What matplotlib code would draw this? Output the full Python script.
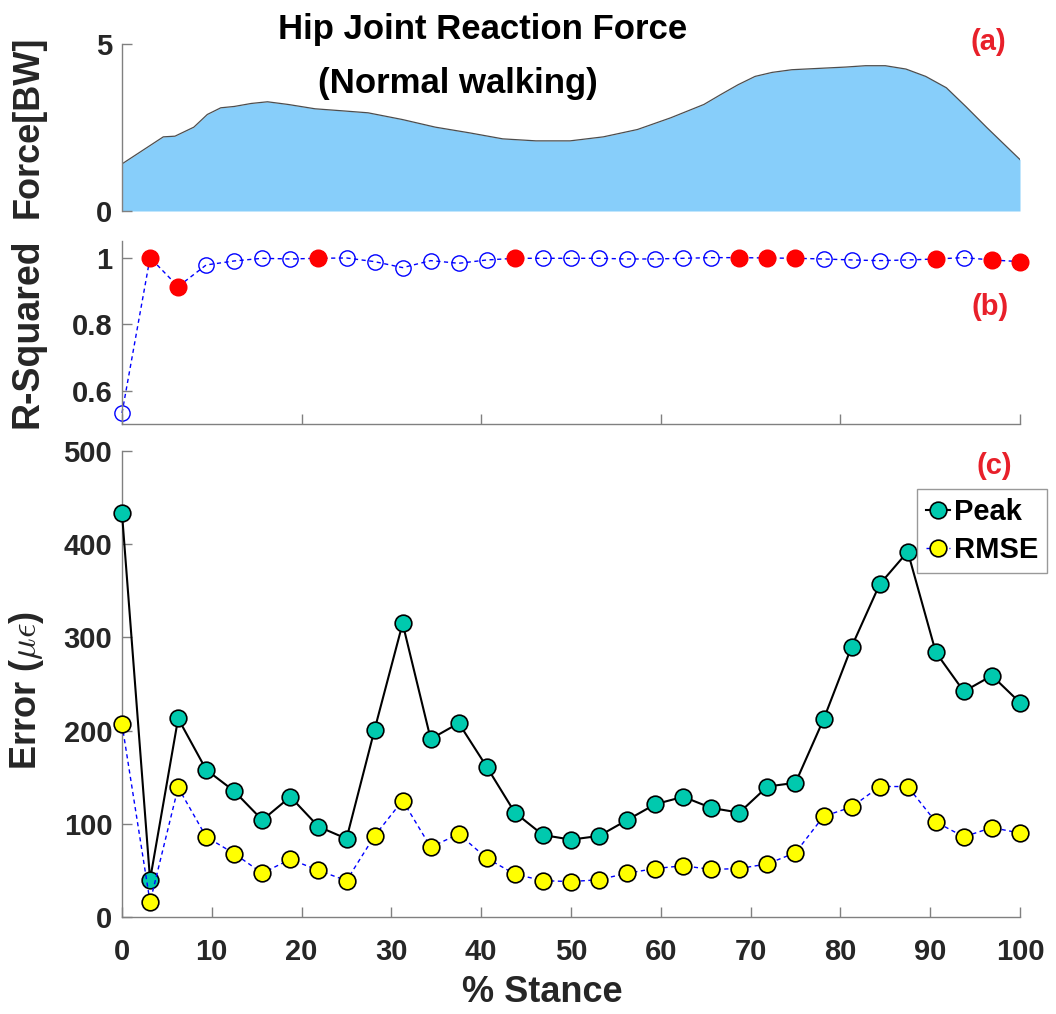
import matplotlib
matplotlib.use('Agg')
import matplotlib.pyplot as plt

# ---------------- data ----------------
stance = [0, 3.125, 6.25, 9.375, 12.5, 15.625, 18.75, 21.875, 25, 28.125, 31.25,
          34.375, 37.5, 40.625, 43.75, 46.875, 50, 53.125, 56.25, 59.375, 62.5,
          65.625, 68.75, 71.875, 75, 78.125, 81.25, 84.375, 87.5, 90.625, 93.75,
          96.875, 100]

peak = [433, 40, 213, 158, 135, 104, 129, 97, 84, 201, 315, 191, 208, 161, 112,
        88, 83, 87, 104, 121, 129, 117, 112, 140, 144, 212, 290, 357, 392, 284,
        242, 259, 230]

rmse = [207, 16, 139, 86, 68, 47, 62, 50, 39, 87, 125, 75, 89, 63, 46, 39, 38,
        40, 47, 52, 55, 51, 52, 57, 69, 108, 118, 140, 140, 102, 86, 96, 90]

r2 = [0.533, 1.0, 0.913, 0.978, 0.990, 0.998, 0.996, 0.998, 0.999, 0.988, 0.970,
      0.991, 0.983, 0.993, 0.998, 0.998, 0.998, 0.998, 0.996, 0.996, 0.998, 1.0,
      1.0, 0.999, 0.998, 0.996, 0.993, 0.991, 0.993, 0.996, 1.0, 0.993, 0.988]
r2_highlight = [1, 2, 7, 14, 22, 23, 24, 29, 31, 32]

force_x = [0, 4.6, 5.9, 8.0, 9.5, 11.0, 12.5, 14.4, 16.2, 18.5, 21.5, 24.5, 27.4,
           31.2, 34.9, 38.7, 42.4, 46.1, 49.9, 53.6, 57.4, 61.1, 64.8, 66.7, 68.6,
           70.5, 72.4, 74.6, 77.6, 80.6, 82.8, 85.0, 87.3, 89.5, 91.8, 94.0, 96.3,
           100]
force_y = [1.41, 2.22, 2.24, 2.51, 2.89, 3.09, 3.13, 3.22, 3.27, 3.19, 3.06, 3.00,
           2.94, 2.74, 2.51, 2.34, 2.16, 2.10, 2.10, 2.22, 2.44, 2.79, 3.19, 3.49,
           3.78, 4.03, 4.15, 4.23, 4.27, 4.31, 4.35, 4.35, 4.25, 4.03, 3.69, 3.12,
           2.50, 1.54]

force_ticks = [0, 5]
r2_ticks = [0.6, 0.8, 1.0]
r2_ticklabels = ['0.6', '0.8', '1']
err_ticks = [0, 100, 200, 300, 400, 500]
x_ticks_c = [0, 10, 20, 30, 40, 50, 60, 70, 80, 90, 100]
x_ticks_b = [0, 20, 40, 60, 80, 100]

# ---------------- style ----------------
plt.rcParams['font.family'] = ['Liberation Sans', 'DejaVu Sans']
plt.rcParams['font.weight'] = 'bold'
plt.rcParams['mathtext.fontset'] = 'cm'

W, H = 1056, 1014
fig = plt.figure(figsize=(W / 100, H / 100), dpi=100)

def fx(px):
    return px / W

def fy(py):
    return 1 - py / H

left, right = 122, 1020
spine_col = '#808080'
txt_col = '#262626'
tick_fs = 21
red = '#E8202A'

def style_axis(ax):
    for s in ['top', 'right']:
        ax.spines[s].set_visible(False)
    for s in ['left', 'bottom']:
        ax.spines[s].set_color(spine_col)
        ax.spines[s].set_linewidth(1.0)
    ax.tick_params(direction='in', colors=spine_col, labelcolor=txt_col,
                   labelsize=tick_fs, length=7, width=1.0)
    for lab in ax.get_xticklabels() + ax.get_yticklabels():
        lab.set_fontweight('bold')

# ---- panel (a) ----
ax_a = fig.add_axes([fx(left), fy(211), fx(right - left), (211 - 44) / H])
ax_a.fill_between(force_x, 0, force_y, color='#87CEFA', lw=0)
ax_a.plot(force_x, force_y, color='#4d4d4d', lw=0.9)
ax_a.set_xlim(0, 100)
ax_a.set_ylim(0, 5)
ax_a.set_yticks(force_ticks)
ax_a.set_xticks([])
style_axis(ax_a)
ax_a.spines['bottom'].set_visible(False)
ax_a.tick_params(axis='y', pad=7)
for lab in ax_a.get_yticklabels():
    lab.set_fontweight('bold')

# ---- panel (b) ----
ax_b = fig.add_axes([fx(left), fy(424), fx(right - left), (424 - 241) / H])
ax_b.plot(stance, r2, linestyle='--', color='blue', lw=1.0, marker='o',
          markersize=11, markerfacecolor='none', markeredgecolor='blue',
          markeredgewidth=1.0, dashes=(3, 2.5), clip_on=False)
hx = [stance[i] for i in r2_highlight]
hy = [r2[i] for i in r2_highlight]
ax_b.plot(hx, hy, linestyle='none', marker='o', markersize=12,
          markerfacecolor='red', markeredgecolor='red', clip_on=False)
ax_b.set_xlim(0, 100)
ax_b.set_ylim(0.5, 1.05)
ax_b.set_yticks(r2_ticks)
ax_b.set_yticklabels(r2_ticklabels)
ax_b.set_xticks(x_ticks_b)
ax_b.set_xticklabels([])
style_axis(ax_b)
ax_b.tick_params(axis='y', pad=7)

# ---- panel (c) ----
ax_c = fig.add_axes([fx(left), fy(917), fx(right - left), (917 - 451) / H])
ax_c.plot(stance, peak, color='black', lw=1.5, marker='o', markersize=12,
          markerfacecolor='#00C9AE', markeredgecolor='black',
          markeredgewidth=1.2, label='Peak', clip_on=False, zorder=3)
ax_c.plot(stance, rmse, color='blue', lw=1.0, linestyle='--', dashes=(3, 2.5),
          marker='o', markersize=12, markerfacecolor='#FFFF00',
          markeredgecolor='black', markeredgewidth=1.2, label='RMSE',
          clip_on=False, zorder=3)
ax_c.set_xlim(0, 100)
ax_c.set_ylim(0, 500)
ax_c.set_yticks(err_ticks)
ax_c.set_xticks(x_ticks_c)
style_axis(ax_c)
ax_c.tick_params(axis='y', pad=7)
ax_c.tick_params(axis='x', pad=15)
for lab in ax_c.get_xticklabels() + ax_c.get_yticklabels():
    lab.set_fontweight('bold')
ax_c.set_xlabel('% Stance', fontsize=26, fontweight='bold', color=txt_col)
ax_c.xaxis.set_label_coords((542 - left) / (right - left), -(992 - 917) / (917 - 451))
ax_c.xaxis.label.set_va('center')

leg = ax_c.legend(loc='upper right', bbox_to_anchor=(fx(1047), fy(489)),
                  bbox_transform=fig.transFigure, fontsize=21, frameon=True,
                  fancybox=False, edgecolor='#808080', handlelength=0.8,
                  handletextpad=0.15, borderpad=0.3, labelspacing=0.35,
                  borderaxespad=0)
leg.get_frame().set_linewidth(1.0)
for t in leg.get_texts():
    t.set_fontweight('bold')
    t.set_color('black')

# ---- y labels ----
fig.text(fx(28), fy(127), 'Force[BW]', rotation=90, ha='center', va='center',
         fontsize=26, fontweight='bold', color=txt_col)
fig.text(fx(28), fy(333), 'R-Squared', rotation=90, ha='center', va='center',
         fontsize=27, fontweight='bold', color=txt_col)
fig.text(fx(27), fy(690), r'Error ($\mu\epsilon$)', rotation=90, ha='center',
         va='center', fontsize=26, fontweight='bold', color=txt_col)

# ---- title ----
fig.text(fx(483), fy(39), 'Hip Joint Reaction Force', ha='center', va='baseline',
         fontsize=25, fontweight='bold', color='black')
fig.text(fx(458), fy(93), '(Normal walking)', ha='center', va='baseline',
         fontsize=25, fontweight='bold', color='black')

# ---- panel tags ----
fig.text(fx(988), fy(42), '(a)', ha='center', va='center', fontsize=21,
         fontweight='bold', color=red)
fig.text(fx(990), fy(307), '(b)', ha='center', va='center', fontsize=21,
         fontweight='bold', color=red)
fig.text(fx(994), fy(466), '(c)', ha='center', va='center', fontsize=21,
         fontweight='bold', color=red)

fig.savefig('out.png', dpi=100)
